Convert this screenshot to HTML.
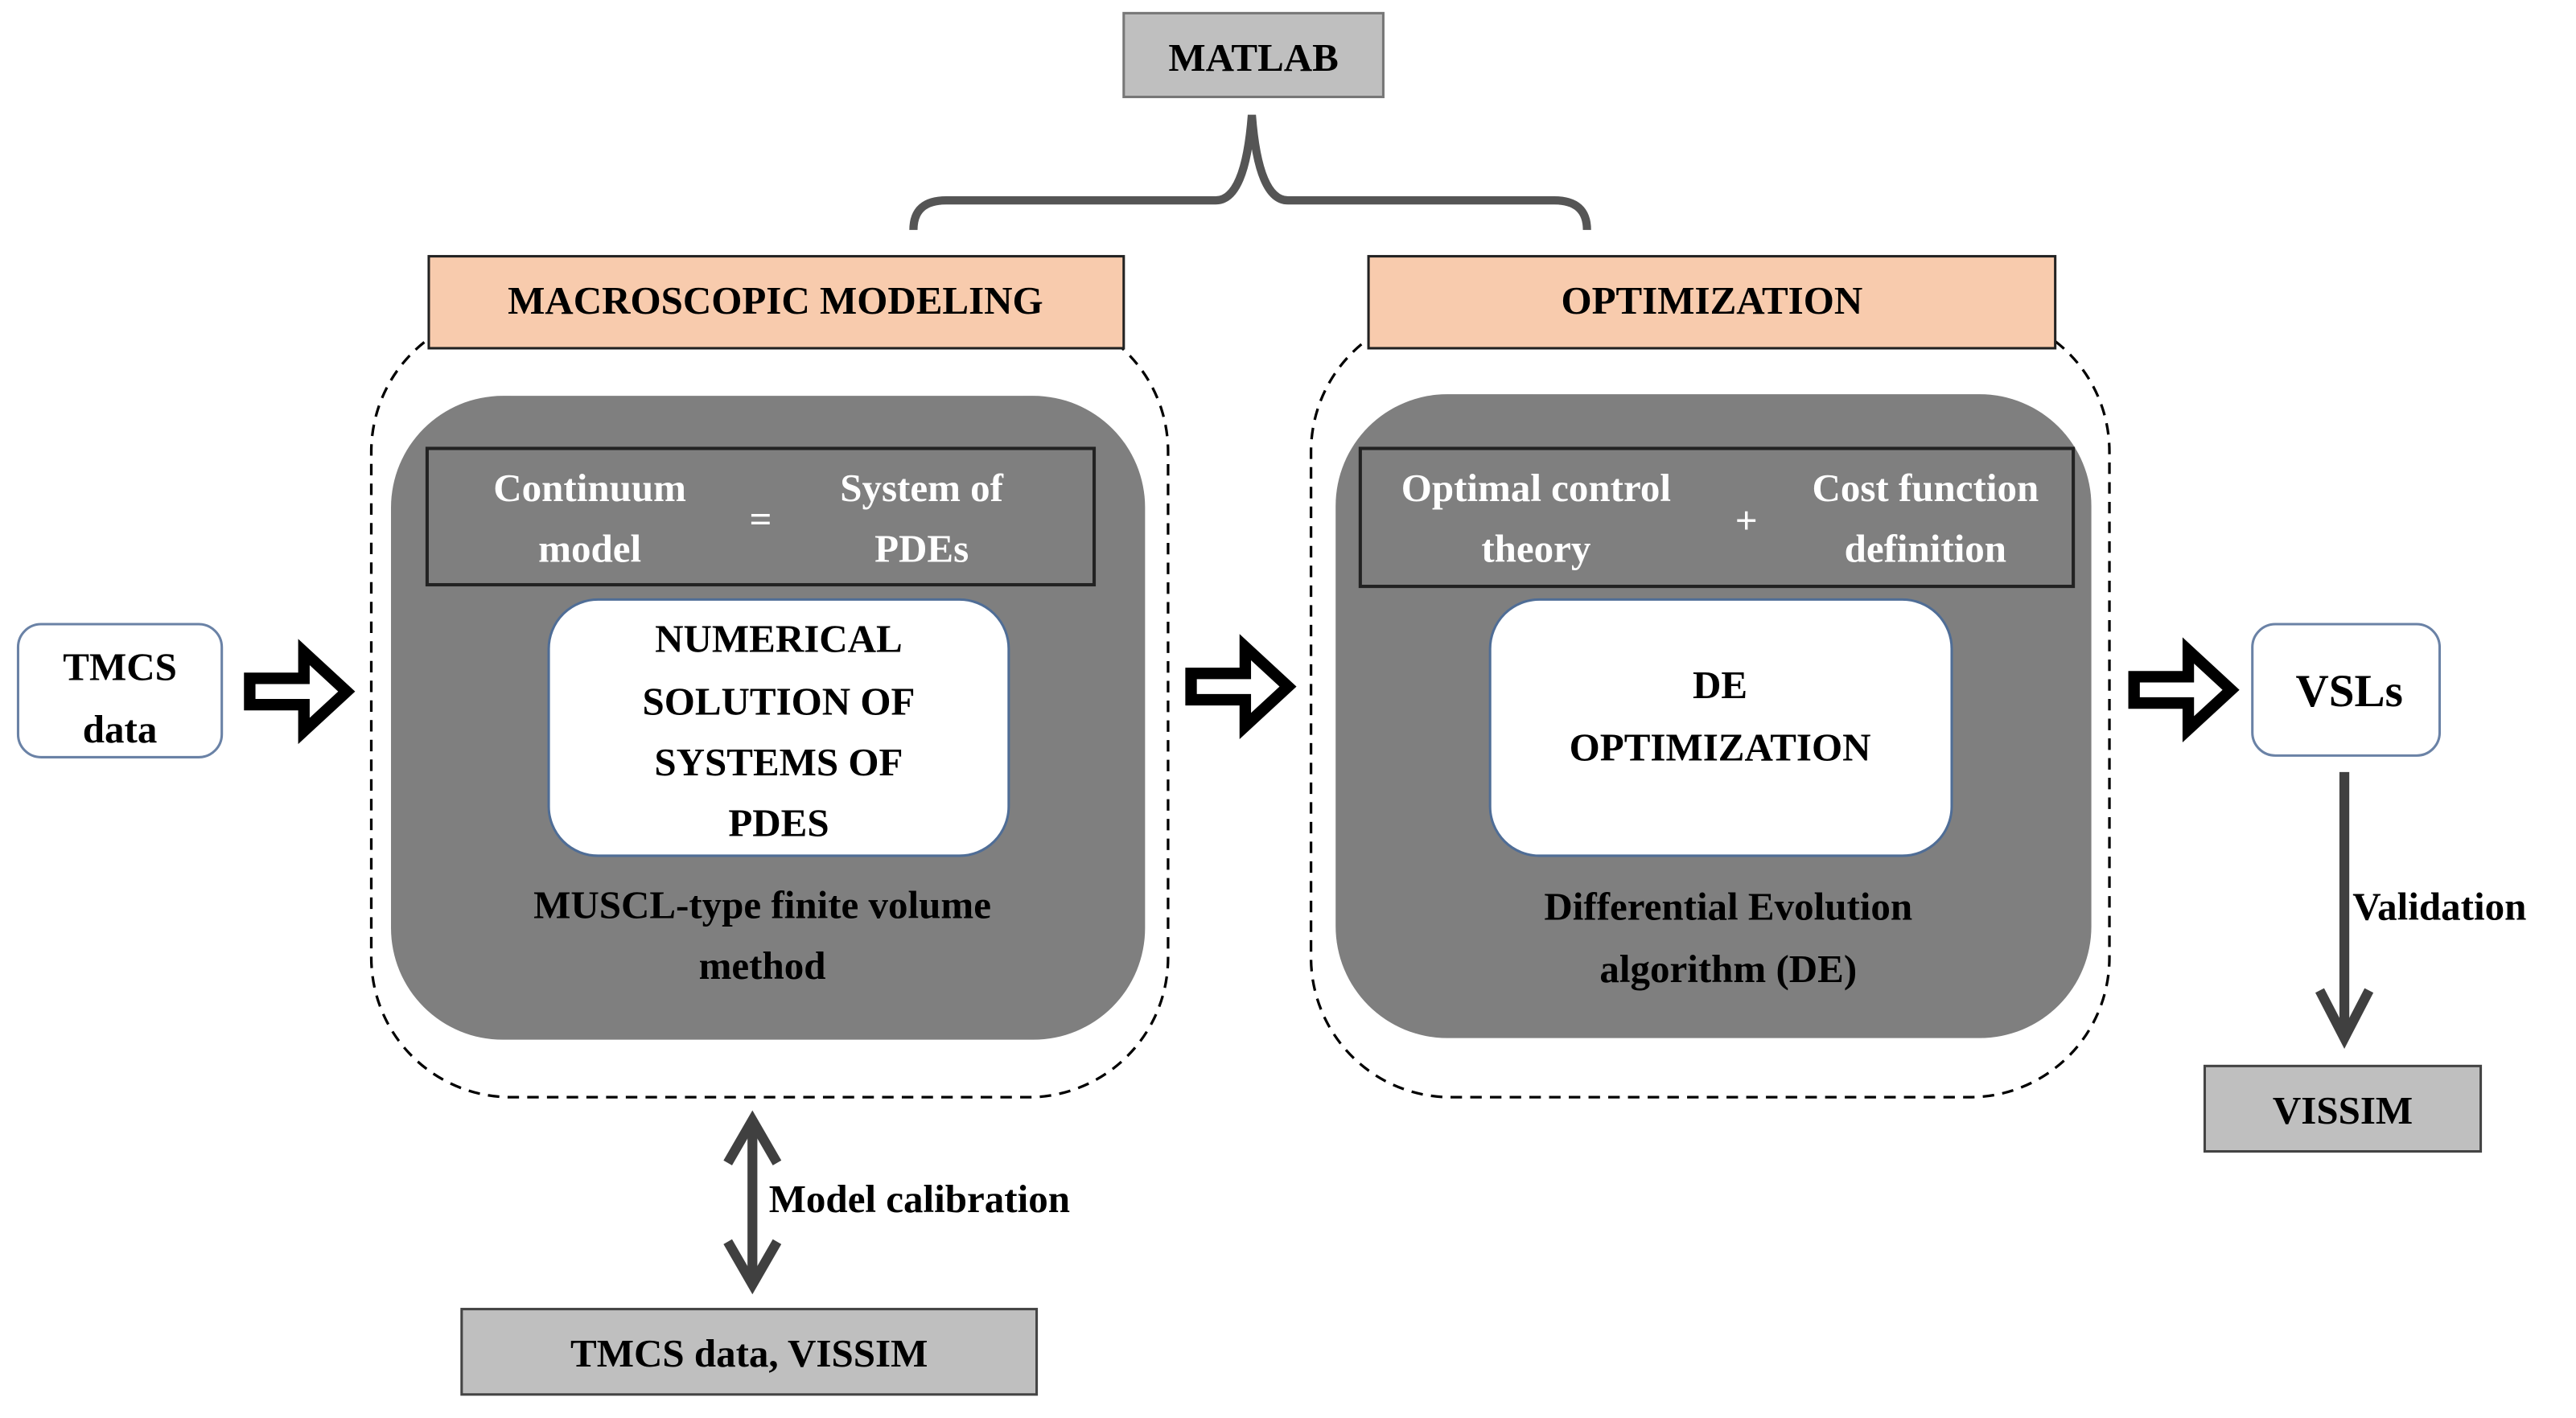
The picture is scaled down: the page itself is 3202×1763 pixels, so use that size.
<!DOCTYPE html>
<html><head><meta charset="utf-8"><style>html,body{margin:0;padding:0;background:#fff}svg{display:block}</style></head>
<body>
<svg width="3202" height="1763" viewBox="0 0 1568 863.3" xmlns="http://www.w3.org/2000/svg" font-family="'Liberation Serif', serif" font-weight="bold">
<rect width="1568" height="864" fill="#fff"/>
<!-- MATLAB -->
<rect x="684" y="8" width="158" height="51" fill="#bfbfbf" stroke="#777" stroke-width="1.5"/>
<text x="763" y="43" font-size="24" text-anchor="middle">MATLAB</text>
<path d="M556,140 Q556,122 576,122 L740,122 Q758,122 762,70 Q766,122 784,122 L946,122 Q966,122 966,140" fill="none" stroke="#555" stroke-width="5"/>
<!-- Left group -->
<rect x="226" y="190" width="485" height="478" rx="85" fill="none" stroke="#000" stroke-width="1.6" stroke-dasharray="7,5"/>
<rect x="261" y="156" width="423" height="56" fill="#f8cbad" stroke="#222" stroke-width="1.5"/>
<text x="472" y="191" font-size="24" text-anchor="middle">MACROSCOPIC MODELING</text>
<rect x="238" y="241" width="459" height="392" rx="68" fill="#7f7f7f"/>
<rect x="260" y="273" width="406" height="83" fill="#7f7f7f" stroke="#222" stroke-width="2"/>
<g fill="#fff" font-size="24" text-anchor="middle">
<text x="359" y="305">Continuum</text><text x="359" y="342">model</text>
<text x="463" y="324">=</text>
<text x="561" y="305">System of</text><text x="561" y="342">PDEs</text>
</g>
<rect x="334" y="365" width="280" height="156" rx="30" fill="#fff" stroke="#4f6d96" stroke-width="1.5"/>
<g font-size="24" text-anchor="middle">
<text x="474" y="397">NUMERICAL</text><text x="474" y="435">SOLUTION OF</text><text x="474" y="472">SYSTEMS OF</text><text x="474" y="509">PDES</text>
<text x="464" y="559">MUSCL-type finite volume</text><text x="464" y="596">method</text>
</g>
<!-- Right group -->
<rect x="798" y="190" width="486" height="478" rx="85" fill="none" stroke="#000" stroke-width="1.6" stroke-dasharray="7,5"/>
<rect x="833" y="156" width="418" height="56" fill="#f8cbad" stroke="#222" stroke-width="1.5"/>
<text x="1042" y="191" font-size="24" text-anchor="middle">OPTIMIZATION</text>
<rect x="813" y="240" width="460" height="392" rx="68" fill="#7f7f7f"/>
<rect x="828" y="273" width="434" height="84" fill="#7f7f7f" stroke="#222" stroke-width="2"/>
<g fill="#fff" font-size="24" text-anchor="middle">
<text x="935" y="305">Optimal control</text><text x="935" y="342">theory</text>
<text x="1063" y="325">+</text>
<text x="1172" y="305">Cost function</text><text x="1172" y="342">definition</text>
</g>
<rect x="907" y="365" width="281" height="156" rx="30" fill="#fff" stroke="#4f6d96" stroke-width="1.5"/>
<g font-size="24" text-anchor="middle">
<text x="1047" y="425">DE</text><text x="1047" y="463">OPTIMIZATION</text>
<text x="1052" y="560">Differential Evolution</text><text x="1052" y="598">algorithm (DE)</text>
</g>
<!-- TMCS data -->
<rect x="11" y="380" width="124" height="81" rx="14" fill="#fff" stroke="#6a82a6" stroke-width="1.5"/>
<g font-size="24" text-anchor="middle"><text x="73" y="414">TMCS</text><text x="73" y="452">data</text></g>
<!-- VSLs -->
<rect x="1371" y="380" width="114" height="80" rx="14" fill="#fff" stroke="#6a82a6" stroke-width="1.5"/>
<text x="1430" y="430" font-size="28" text-anchor="middle">VSLs</text>
<!-- block arrows -->
<g fill="#fff" stroke="#000" stroke-width="7" stroke-linejoin="miter">
<path d="M152,413 L185,413 L185,397 L211,421 L185,445 L185,429 L152,429 Z"/>
<path d="M725,410 L758,410 L758,394 L784,418 L758,442 L758,426 L725,426 Z"/>
<path d="M1299,412 L1332,412 L1332,396 L1358,420 L1332,444 L1332,428 L1299,428 Z"/>
</g>
<!-- validation arrow -->
<line x1="1427" y1="470" x2="1427" y2="630" stroke="#404040" stroke-width="6"/>
<path d="M1412,603 L1427,632 L1442,603" fill="none" stroke="#404040" stroke-width="6"/>
<text x="1432" y="560" font-size="24">Validation</text>
<rect x="1342" y="649" width="168" height="52" fill="#bfbfbf" stroke="#444" stroke-width="1.5"/>
<text x="1426" y="684" font-size="24" text-anchor="middle">VISSIM</text>
<!-- calibration arrow -->
<line x1="458" y1="683" x2="458" y2="780" stroke="#404040" stroke-width="6"/>
<path d="M443,708 L458,682 L473,708 M443,756 L458,782 L473,756" fill="none" stroke="#404040" stroke-width="6"/>
<text x="468" y="738" font-size="24">Model calibration</text>
<rect x="281" y="797" width="350" height="52" fill="#bfbfbf" stroke="#444" stroke-width="1.5"/>
<text x="456" y="832" font-size="24" text-anchor="middle">TMCS data, VISSIM</text>
</svg>
</body></html>
